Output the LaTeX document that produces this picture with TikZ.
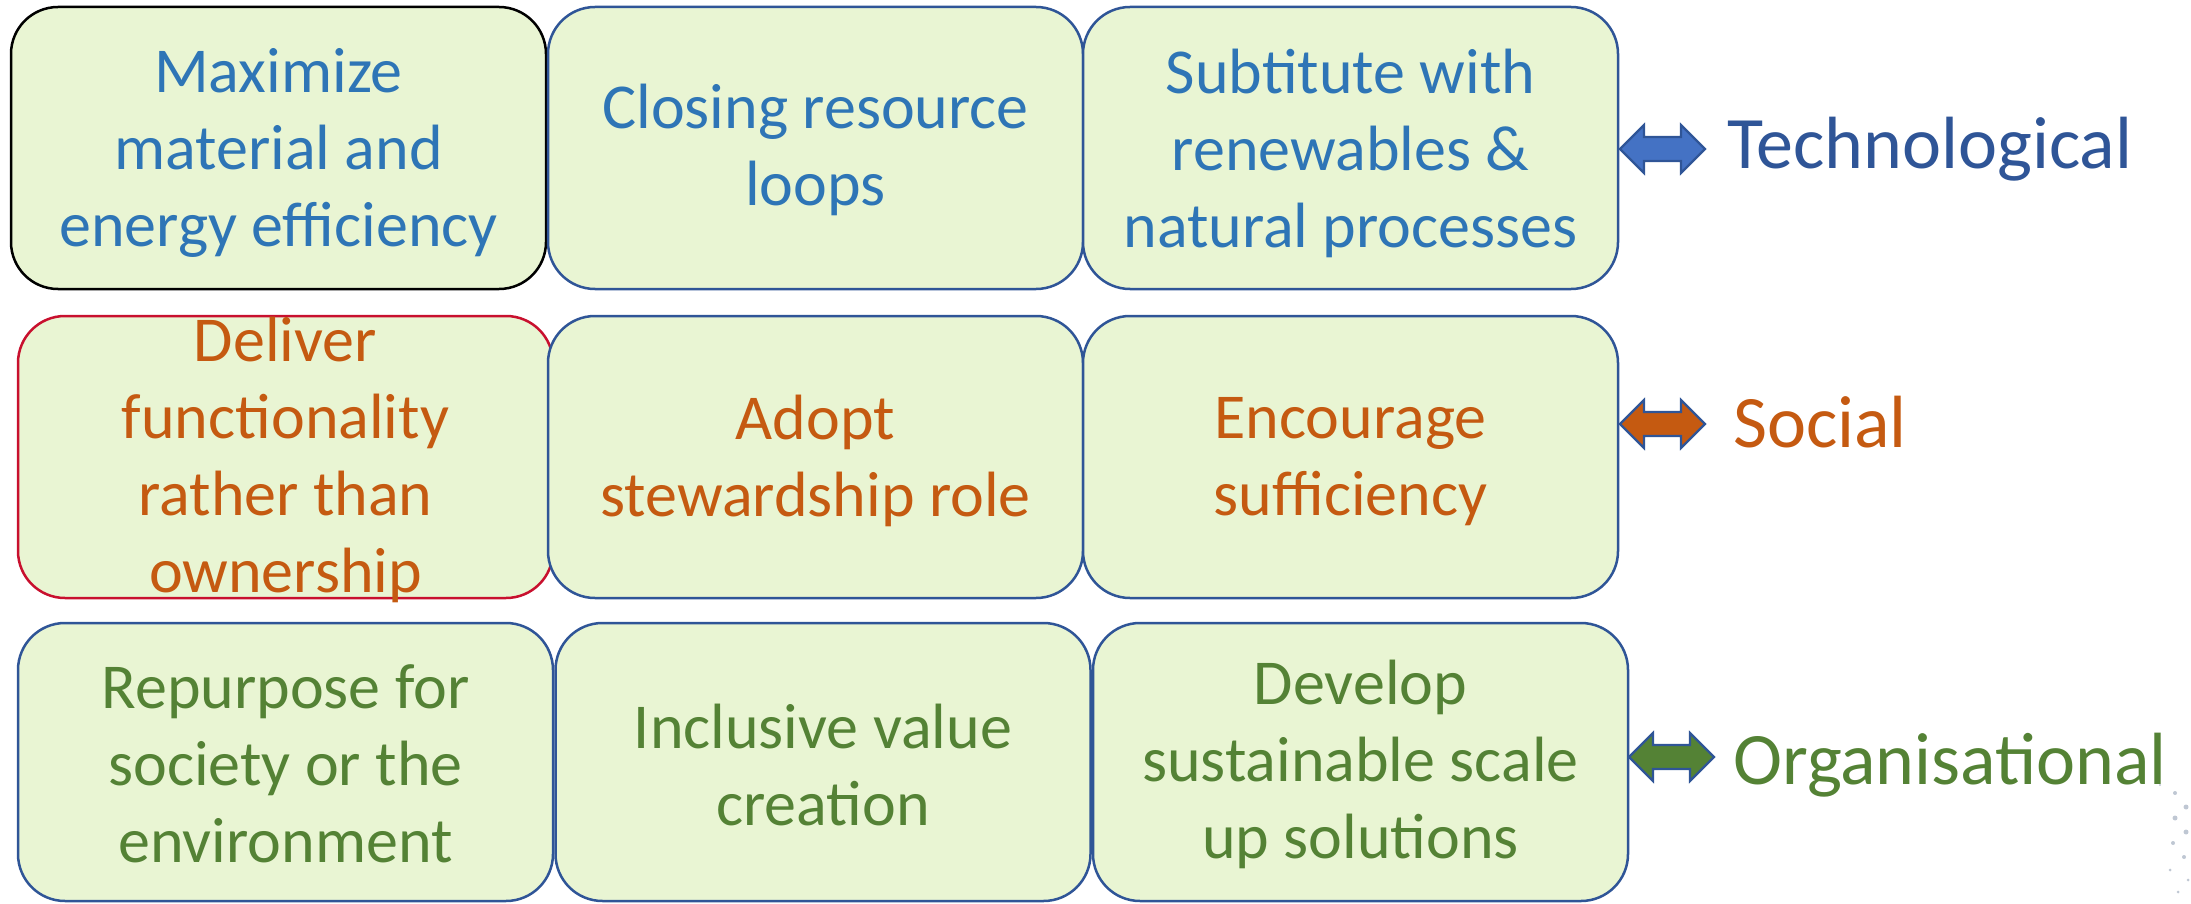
\documentclass[tikz,border=0pt]{standalone}
\usepackage{fontspec}
\setmainfont{Carlito}
\definecolor{boxfill}{HTML}{E9F5D3}
\definecolor{boxblue}{HTML}{2F5597}
\definecolor{txtblue}{HTML}{2E75B6}
\definecolor{techblue}{HTML}{2F5597}
\definecolor{orng}{HTML}{C55A11}
\definecolor{grn}{HTML}{548235}
\definecolor{arrblue}{HTML}{4472C4}
\definecolor{redline}{HTML}{C8102E}
\definecolor{dotgray}{HTML}{8090A8}
\begin{document}
\begin{tikzpicture}[x=1pt,y=-1pt,
  cbox/.style={draw=boxblue, fill=boxfill, line width=2.5pt, rounded corners=47pt,
    minimum width=535pt, minimum height=282pt, inner sep=0pt},
  btext/.style={inner sep=0pt, align=center, font=\fontsize{64}{77}\selectfont},
  catlabel/.style={anchor=base west, inner sep=0pt, font=\fontsize{74}{88}\selectfont},
  dblarr/.style={draw=boxblue, line width=2.2pt, line join=miter}
]
\useasboundingbox (0,0) rectangle (2191,904);
% row 1
\node[cbox, draw=black] (r1a) at (278.5,148) {};
\node[btext, text=txtblue] (t1a) at ([yshift=-5pt]r1a.center) {Maximize\\material and\\energy efficiency};
\node[cbox] (r1b) at (815.5,148) {};
\node[btext, text=txtblue] (t1b) at ([yshift=-2pt]r1b.center) {Closing resource\\loops};
\node[cbox] (r1c) at (1350.5,148) {};
\node[btext, text=txtblue] (t1c) at ([yshift=-5pt]r1c.center) {Subtitute with\\renewables \&\\natural processes};
% row 2
\node[cbox, draw=redline] (r2a) at (285.5,457) {};
\node[btext, text=orng] (t2a) at ([yshift=-3pt]r2a.center) {Deliver\\functionality\\rather than\\ownership};
\node[cbox] (r2b) at (815.5,457) {};
\node[btext, text=orng] (t2b) at ([yshift=-4pt]r2b.center) {Adopt\\stewardship role};
\node[cbox] (r2c) at (1350.5,457) {};
\node[btext, text=orng] (t2c) at ([yshift=-5pt]r2c.center) {Encourage\\sufficiency};
% row 3
\node[cbox, minimum height=278pt] (r3a) at (285.5,762) {};
\node[btext, text=grn] (t3a) at ([yshift=-2pt]r3a.center) {Repurpose for\\society or the\\environment};
\node[cbox, minimum height=278pt] (r3b) at (823,762) {};
\node[btext, text=grn] (t3b) at ([yshift=-3pt]r3b.center) {Inclusive value\\creation};
\node[cbox, minimum height=278pt] (r3c) at (1360.5,762) {};
\node[btext, text=grn] (t3c) at ([yshift=-2pt]r3c.center) {Develop\\sustainable scale\\up solutions};
% labels
\node[catlabel, text=techblue] (tech) at (1727,169) {Technological};
\node[catlabel, text=orng] (soc) at (1733,447) {Social};
\node[catlabel, text=grn] (org) at (1733,784) {Organisational};
% arrows
\coordinate (a1) at (1620,149);
\coordinate (a2) at (1620,424);
\coordinate (a3) at (1629,757);
\draw[dblarr, fill=arrblue] (a1) -- ++(24,-24) -- ++(0,12) -- ++(37,0) -- ++(0,-12) -- ++(24,24) -- ++(-24,24) -- ++(0,-12) -- ++(-37,0) -- ++(0,12) -- cycle;
\draw[dblarr, fill=orng] (a2) -- ++(24,-24) -- ++(0,12) -- ++(37,0) -- ++(0,-12) -- ++(24,24) -- ++(-24,24) -- ++(0,-12) -- ++(-37,0) -- ++(0,12) -- cycle;
\draw[dblarr, fill=grn] (a3) -- ++(24,-24) -- ++(0,12) -- ++(37,0) -- ++(0,-12) -- ++(24,24) -- ++(-24,24) -- ++(0,-12) -- ++(-37,0) -- ++(0,12) -- cycle;
% faint dots
\foreach \px/\py/\r in {2175/793/2, 2186/807/2.5, 2175/818/2.5, 2186/832/2.5, 2173/843/2, 2184/857/2, 2170/870/1.5, 2188/880/1.5, 2160/785/1.2, 2178/892/1.5}
  \fill[dotgray, opacity=0.5] (\px,\py) circle (\r);
\end{tikzpicture}
\end{document}
